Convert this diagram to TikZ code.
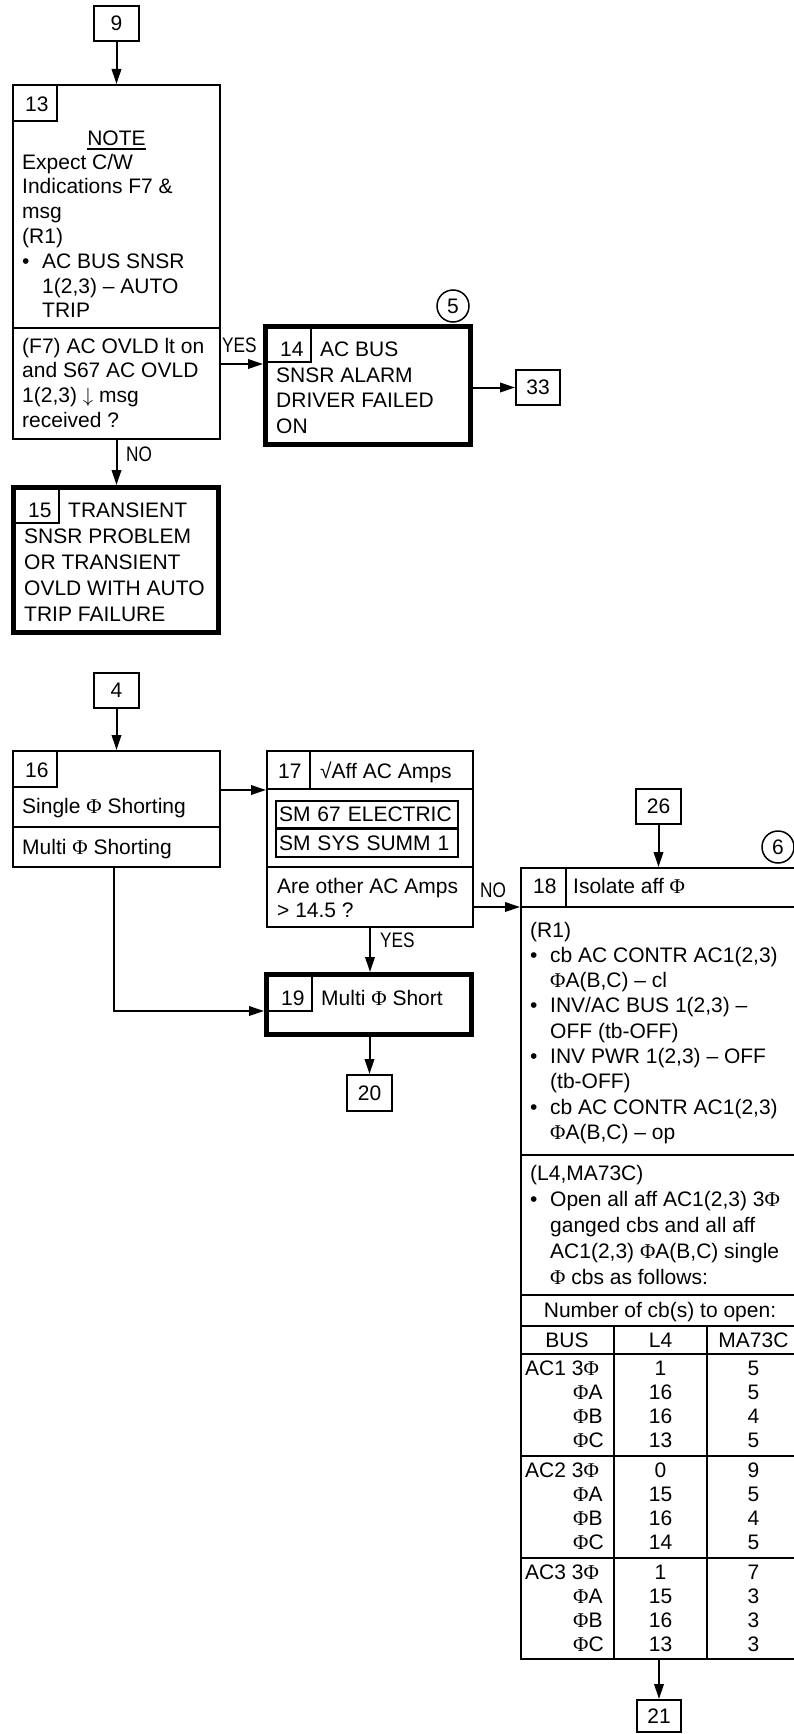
\documentclass[tikz,border=0pt]{standalone}
\usepackage{fontspec}
\setmainfont{Liberation Sans}
\newfontfamily\phfont{Liberation Serif}
\usepackage{graphicx}
\usetikzlibrary{arrows.meta}
\newcommand\myfont{\fontsize{21}{25}\selectfont}
\newcommand\fphi{{\phfont Φ}}
\newcommand\mycond[1]{\scalebox{0.82}[1]{#1}}
\newcommand\mybul{\makebox[20pt][l]{•}}
\newcommand\myind{\hspace*{20pt}}
\newcommand\tblock[5]{\foreach \tline [count=\k from 0] in {#5}{\node[lbl] (#1-\k) at (#2,{#3+#4*\k}) {\tline};}}
\tikzset{
 bx/.style={draw, line width=2pt, inner sep=0, anchor=north west},
 kbx/.style={draw, line width=5pt, inner sep=0, anchor=north west},
 ref/.style={bx, font=\myfont},
 lbl/.style={anchor=base west, inner sep=0, font=\myfont},
 cl/.style={anchor=base, inner sep=0, font=\myfont},
 ln/.style={line width=2pt},
 arr/.style={line width=2pt, -{Triangle[length=15pt,width=9.5pt]}},
 cir/.style={circle, draw, line width=1.5pt, minimum size=32pt, inner sep=0, font=\myfont},
}
\begin{document}
\begin{tikzpicture}[x=1pt,y=-1pt]
\useasboundingbox (0,0) rectangle (794,1734);
\clip (0,0) rectangle (794,1734);
% ---------- upper part ----------
\node[ref, minimum width=45pt, minimum height=35pt] (b9) at (93,5) {9};
\node[bx, minimum width=207pt, minimum height=354pt] (b13) at (12,84) {};
\draw[ln] (57,85) |- (13,121);
\draw[ln] (13,328) -- (220,328);
\node[lbl] (n13) at (25,112) {13};
\node[cl] (note) at (116.5,146) {NOTE};
\draw[line width=1.6pt] ([yshift=-2.5pt]note.south west) -- ([yshift=-2.5pt]note.south east);
\tblock{t13}{22}{169}{24.8}{Expect C/W, Indications F7 \&, msg, (R1), \mybul AC BUS SNSR, {\myind 1(2,3) – AUTO}, \myind TRIP}
\tblock{q13}{22}{353}{24.7}{(F7) AC OVLD lt on, and S67 AC OVLD, {1(2,3) $\downarrow$ msg}, received ?}

\node[kbx, minimum width=205pt, minimum height=118pt] (b14) at (263,324) {};
\draw[ln] (311,326) |- (265,362);
\node[lbl] (n14) at (280,356) {14};
\node[lbl] (h14) at (320,356) {AC BUS};
\tblock{t14}{276}{382}{25.5}{SNSR ALARM, DRIVER FAILED, ON}
\node[cir] (c5) at (453,306) {5};

\node[ref, minimum width=44pt, minimum height=35pt] (b33) at (515,369) {33};

\node[kbx, minimum width=205pt, minimum height=145pt] (b15) at (11,485) {};
\draw[ln] (59,487) |- (13,523);
\node[lbl] (n15) at (28,517) {15};
\node[lbl] (h15) at (68,517) {TRANSIENT};
\tblock{t15}{24}{543}{26}{SNSR PROBLEM, OR TRANSIENT, OVLD WITH AUTO, TRIP FAILURE}

\draw[arr] (b9.south) -- (b9.south |- b13.north);
\draw[arr] (b13.east |- 0,364) -- (b14.west |- 0,364);
\node[lbl] (yes1) at (222,352) {\mycond{YES}};
\draw[arr] (b13.south) -- (b13.south |- b15.north);
\node[lbl] (no1) at (126,461) {\mycond{NO}};
\draw[arr] (b33.west -| b14.east) -- (b33.west);

% ---------- lower part ----------
\node[ref, minimum width=45pt, minimum height=35pt] (b4) at (93,672) {4};
\node[bx, minimum width=207pt, minimum height=116pt] (b16) at (12,750) {};
\draw[ln] (57,751) |- (13,787);
\draw[ln] (13,827) -- (220,827);
\node[lbl] (n16) at (25,777) {16};
\node[lbl] (s16) at (22,813) {Single \fphi\ Shorting};
\node[lbl] (m16) at (22,854) {Multi \fphi\ Shorting};

\node[bx, minimum width=206pt, minimum height=176pt] (b17) at (266,750) {};
\draw[ln] (310,751) -- (310,789);
\draw[ln] (267,789) -- (473,789);
\draw[ln] (267,867) -- (473,867);
\node[lbl] (n17) at (278,778) {17};
\node[lbl] (h17) at (320,778) {√Aff AC Amps};
\node[bx, minimum width=182pt, minimum height=27pt, text width=176pt, align=left, font=\myfont] (sm1) at (275,800) {SM 67 ELECTRIC};
\node[bx, minimum width=182pt, minimum height=28pt, text width=176pt, align=left, font=\myfont] (sm2) at (275,828) {SM SYS SUMM 1};
\tblock{q17}{277}{893}{24}{Are other AC Amps, > 14.5 ?}

\node[kbx, minimum width=205pt, minimum height=60pt] (b19) at (264,972) {};
\draw[ln] (312,974) |- (266,1011);
\node[lbl] (n19) at (281,1005) {19};
\node[lbl] (h19) at (321,1005) {Multi \fphi\ Short};

\node[ref, minimum width=45pt, minimum height=36pt] (b20) at (346,1074) {20};

\draw[arr] (b4.south) -- (b4.south |- b16.north);
\draw[arr] (b16.east |- 0,790) -- (b17.west |- 0,790);
\draw[arr] (b16.south -| 114,0) |- (b19.west |- 0,1011);
\draw[arr] (b17.south) -- (b17.south |- b19.north);
\node[lbl] (yes2) at (380,947) {\mycond{YES}};
\draw[arr] (b19.south -| b20.north) -- (b20.north);

% ---------- block 18 ----------
\node[ref, minimum width=45pt, minimum height=35pt] (b26) at (635,788) {26};
\node[bx, minimum width=279pt, minimum height=791pt] (b18) at (520,867) {};
\node[cir] (c6) at (778,847) {6};
\draw[ln] (566,868) -- (566,907);
\foreach \yy in {907,1155,1295,1326,1354,1456,1558} \draw[ln] (521,\yy) -- (800,\yy);
\draw[ln] (614,1326) -- (614,1659);
\draw[ln] (707,1326) -- (707,1659);
\node[lbl] (n18) at (533,893) {18};
\node[lbl] (h18) at (573,893) {Isolate aff \fphi};
\tblock{r18}{530}{937}{25.3}{(R1), {\mybul cb AC CONTR AC1(2,3)}, {\myind\fphi A(B,C) – cl}, {\mybul INV/AC BUS 1(2,3) –}, \myind OFF (tb-OFF), {\mybul INV PWR 1(2,3) – OFF}, \myind (tb-OFF), {\mybul cb AC CONTR AC1(2,3)}, {\myind\fphi A(B,C) – op}}
\tblock{l18}{530}{1180}{26.2}{{(L4,MA73C)}, {\mybul Open all aff AC1(2,3) 3\fphi}, \myind ganged cbs and all aff, {\myind AC1(2,3) \fphi A(B,C) single}, \myind\fphi\ cbs as follows:}
\node[cl] (ncb) at (660,1317) {Number of cb(s) to open:};
\node[cl] (hbus) at (567,1347) {BUS};
\node[cl] (hl4) at (660.5,1347) {L4};
\node[cl] (hma) at (753.5,1347) {MA73C};
\foreach \g/\bn/\la/\lb/\lc/\ld/\ma/\mb/\mc/\md in {0/AC1/1/16/16/13/5/5/4/5, 1/AC2/0/15/16/14/9/5/4/5, 2/AC3/1/15/16/13/7/3/3/3}{
  \node[lbl] (g\g-0) at (525,{1375+102*\g}) {\bn\ 3\fphi};
  \node[lbl] (g\g-1) at (573,{1375+102*\g+24}) {\fphi A};
  \node[lbl] (g\g-2) at (573,{1375+102*\g+48}) {\fphi B};
  \node[lbl] (g\g-3) at (573,{1375+102*\g+72}) {\fphi C};
  \node[cl] (l\g-0) at (660.5,{1375+102*\g}) {\la};
  \node[cl] (l\g-1) at (660.5,{1375+102*\g+24}) {\lb};
  \node[cl] (l\g-2) at (660.5,{1375+102*\g+48}) {\lc};
  \node[cl] (l\g-3) at (660.5,{1375+102*\g+72}) {\ld};
  \node[cl] (m\g-0) at (753.5,{1375+102*\g}) {\ma};
  \node[cl] (m\g-1) at (753.5,{1375+102*\g+24}) {\mb};
  \node[cl] (m\g-2) at (753.5,{1375+102*\g+48}) {\mc};
  \node[cl] (m\g-3) at (753.5,{1375+102*\g+72}) {\md};
}
\node[ref, minimum width=44pt, minimum height=32pt] (b21) at (636,1699) {21};

\draw[arr] (b26.south) -- (b26.south |- b18.north);
\draw[arr] (b17.east |- 0,907) -- (b18.west |- 0,907);
\node[lbl] (no2) at (480,897) {\mycond{NO}};
\draw[arr] (b21.north |- b18.south) -- (b21.north);
\end{tikzpicture}
\end{document}
